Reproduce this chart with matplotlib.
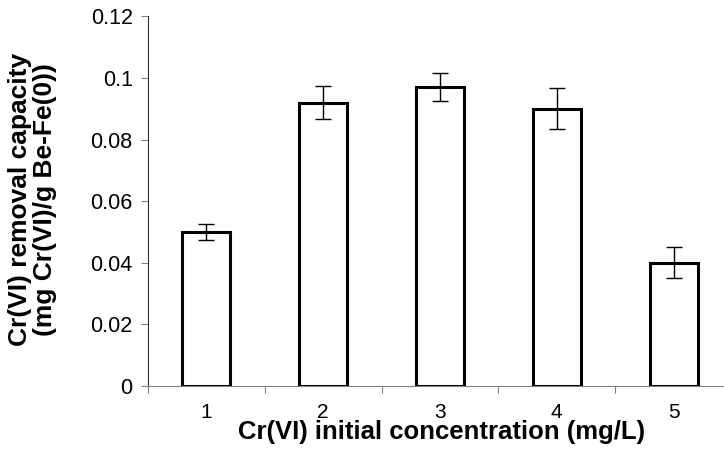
import matplotlib
matplotlib.use('Agg')
import matplotlib.pyplot as plt
import numpy as np

plt.rcParams['font.family'] = ['Liberation Sans', 'DejaVu Sans']

conc = ['1', '2', '3', '4', '5']
capacity = [0.050, 0.092, 0.097, 0.090, 0.040]
err = [0.0025, 0.0053, 0.0045, 0.0066, 0.005]
yticks = [0, 0.02, 0.04, 0.06, 0.08, 0.1, 0.12]
ytick_labels = ['0', '0.02', '0.04', '0.06', '0.08', '0.1', '0.12']

fig = plt.figure(figsize=(7.24, 4.5), dpi=100)
ax = fig.add_axes([0.2044, 0.1422, 0.8066, 0.8214])

x = np.arange(1, len(conc) + 1)
ax.bar(x, capacity, width=0.41, color='white', edgecolor='black', linewidth=2.2, zorder=2)
ax.errorbar(x, capacity, yerr=err, fmt='none', ecolor='black', elinewidth=1.0,
            capsize=6, capthick=1.0, zorder=3)

ax.set_xlim(0.5, 5.5)
ax.set_ylim(0, 0.12)
ax.set_yticks(yticks)
ax.set_yticklabels(ytick_labels)
# major ticks sit between the bars, labels go on the minor ticks
ax.set_xticks(np.arange(0.5, 5.6, 1.0))
ax.set_xticklabels([])
ax.set_xticks(x, minor=True)
ax.set_xticklabels(conc, minor=True)
ax.tick_params(axis='x', which='minor', length=0, labelsize=15, pad=12)
ax.tick_params(axis='x', which='major', length=5, direction='out', color='#808080')
ax.tick_params(axis='y', length=5, direction='out', labelsize=15.5, color='#808080', pad=6)

for s in ['top', 'right']:
    ax.spines[s].set_visible(False)
ax.spines['left'].set_color('#303030')
ax.spines['bottom'].set_color('#808080')

fig.text(0.6105, 0.040, 'Cr(VI) initial concentration (mg/L)', fontsize=18.5,
         fontweight='bold', ha='center', va='center')
fig.text(0.045, 0.556, 'Cr(VI) removal capacity\n(mg Cr(VI)/g Be-Fe(0))', fontsize=19,
         fontweight='bold', rotation=90, ha='center', va='center', linespacing=1.08,
         multialignment='center')

plt.savefig('out.png', dpi=100)
